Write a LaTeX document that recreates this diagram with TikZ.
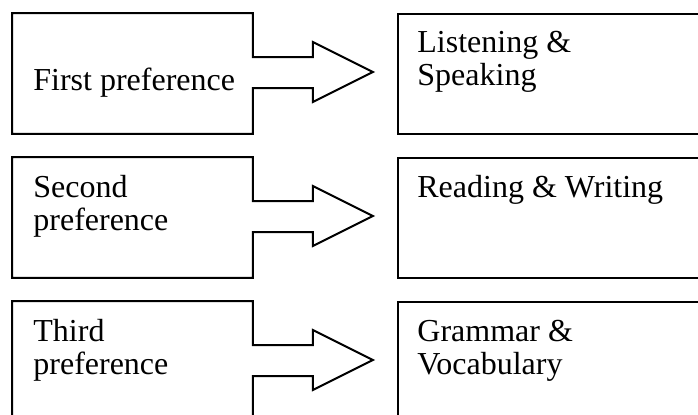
\documentclass[tikz,border=0pt]{standalone}
\usepackage{fontspec}
\setmainfont{Liberation Serif}
\tikzset{
  outline/.style={line width=1pt, line join=miter},
  lbox/.style={minimum width=120pt, minimum height=60pt, inner sep=0pt, anchor=north west},
  rbox/.style={draw, line width=1pt, minimum width=165pt, minimum height=60pt, inner sep=0pt, anchor=north west},
  boxtext/.style={font=\fontsize{16}{16.5}\selectfont, align=left, inner sep=0pt, anchor=base west}
}
\begin{document}
\begin{tikzpicture}[x=0.5pt,y=-0.5pt]
    \clip (0,0) rectangle (698,414);
    % left boxes with their arrows
    \node[lbox] (first) at (12,13) {};
    \node[lbox] (second) at (12,157) {};
    \node[lbox] (third) at (12,301) {};
    \draw[outline] (first.north east) -- ++(0,44) -- ++(60,0) -- ++(0,-15) -- ++(60,30) -- ++(-60,30) -- ++(0,-14) -- ++(-60,0)
        -- (first.south east) -- (first.south west) -- (first.north west) -- cycle;
    \draw[outline] (second.north east) -- ++(0,44) -- ++(60,0) -- ++(0,-15) -- ++(60,30) -- ++(-60,30) -- ++(0,-14) -- ++(-60,0)
        -- (second.south east) -- (second.south west) -- (second.north west) -- cycle;
    \draw[outline] (third.north east) -- ++(0,44) -- ++(60,0) -- ++(0,-15) -- ++(60,30) -- ++(-60,30) -- ++(0,-14) -- ++(-60,0)
        -- (third.south east) -- (third.south west) -- (third.north west) -- cycle;
    % right boxes
    \node[rbox] (ls) at (397,13) {};
    \node[rbox] (rw) at (397,157) {};
    \node[rbox] (gv) at (397,301) {};
    % texts (base = last line)
    \node[boxtext] (firsttext) at (33,90) {First preference};
    \node[boxtext] (secondtext) at (33,230) {Second\\preference};
    \node[boxtext] (thirdtext) at (33,374) {Third\\preference};
    \node[boxtext] (lstext) at (417,85) {Listening \&\\Speaking};
    \node[boxtext] (rwtext) at (417,197) {Reading \& Writing};
    \node[boxtext] (gvtext) at (417,374) {Grammar \&\\Vocabulary};
\end{tikzpicture}
\end{document}
